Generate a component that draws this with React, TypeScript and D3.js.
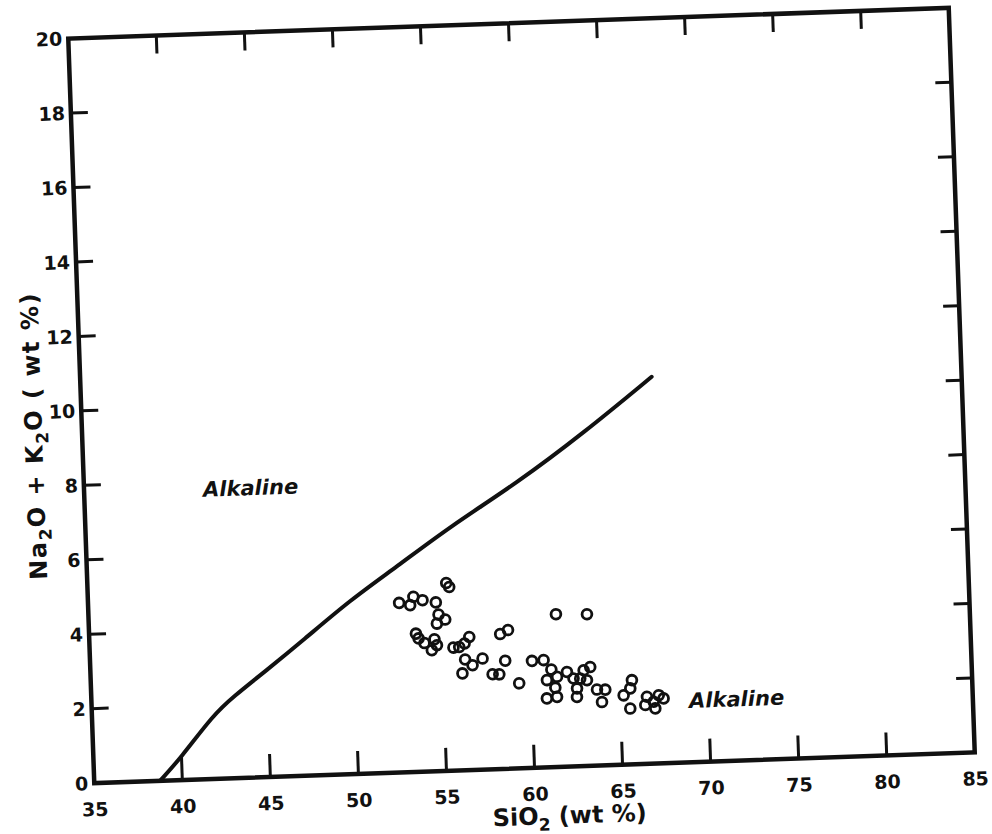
import * as d3 from "d3";

const WIDTH = 992;
const HEIGHT = 834;
const FRAME = { left: 81, right: 962, top: 23, bottom: 768 };
// the scanned figure sits a little rotated on the page
const TILT = -2;

const xTicks = [40, 45, 50, 55, 60, 65, 70, 75, 80];
const xLabels = [35, 40, 45, 50, 55, 60, 65, 70, 75, 80, 85];
const yTicks = [2, 4, 6, 8, 10, 12, 14, 16, 18];
const yLabels = [0, 2, 4, 6, 8, 10, 12, 14, 16, 18, 20];

// alkaline / subalkaline dividing curve
const boundarySiO2 = [38.73, 39.95, 41.89, 43.06, 45, 47.14, 49.87, 52.58, 55.68, 59.55, 63.43, 67.42];
const boundaryAlk = [0, 0.59, 1.72, 2.19, 2.87, 3.64, 4.67, 5.52, 6.55, 7.65, 8.93, 10.38];

// analysed samples
const sampleSiO2 = [
  55.36, 55.52, 52.65, 53.27, 53.47, 53.98, 54.73, 54.86, 55.23, 54.75,
  53.54, 53.68, 54.01, 54.58, 54.71, 54.41, 55.64, 55.97, 56.28, 56.56,
  58.32, 58.77, 56.28, 56.69, 57.27, 56.1, 58.55, 57.81, 58.19, 61.52,
  63.28, 59.3, 60.07, 60.73, 61.15, 60.88, 61.46, 61.34, 60.84, 61.42,
  62.03, 62.39, 62.77, 62.57, 62.55, 62.98, 63.36, 63.15, 63.7, 64.17,
  63.96, 65.2, 65.7, 65.59, 65.55, 66.41, 66.52, 66.89, 66.97, 67.19,
  67.46,
];
const sampleAlk = [
  5.04, 4.93, 4.55, 4.48, 4.7, 4.6, 4.53, 4.2, 4.06, 3.96,
  3.71, 3.58, 3.45, 3.54, 3.38, 3.25, 3.3, 3.31, 3.4, 3.57,
  3.62, 3.72, 2.97, 2.81, 2.98, 2.6, 2.9, 2.55, 2.54, 4.1,
  4.07, 2.28, 2.87, 2.88, 2.62, 2.34, 2.42, 2.13, 1.85, 1.88,
  2.54, 2.36, 2.35, 2.09, 1.86, 2.57, 2.65, 2.3, 2.04, 2.03,
  1.7, 1.86, 2.26, 2.04, 1.5, 1.58, 1.8, 1.66, 1.48, 1.83,
  1.74,
];

const fieldNames = ["Alkaline", "Alkaline"];
const fieldSiO2 = [41.75, 68.9];
const fieldAlk = [7.58, 1.46];

const INK = "#111";
const FONT = "'DejaVu Sans', sans-serif";

export default function App() {
  const x = d3.scaleLinear().domain([35, 85]).range([FRAME.left, FRAME.right]);
  const y = d3.scaleLinear().domain([0, 20]).range([FRAME.bottom, FRAME.top]);

  const cx = (FRAME.left + FRAME.right) / 2;
  const cy = (FRAME.top + FRAME.bottom) / 2;

  // basis smoothing irons out the reading noise, the hand-drawn line is smooth
  const boundary = d3
    .line<number>()
    .x((d) => x(d))
    .y((_, i) => y(boundaryAlk[i]))
    .curve(d3.curveBasis)(boundarySiO2);

  return (
    <svg
      width={WIDTH}
      height={HEIGHT}
      style={{ position: "absolute", left: 0, top: 0, display: "block", background: "#fff" }}
    >
      <g transform={`rotate(${TILT},${cx},${cy})`} fill={INK} fontFamily={FONT}>
        {/* frame */}
        <rect
          x={FRAME.left}
          y={FRAME.top}
          width={FRAME.right - FRAME.left}
          height={FRAME.bottom - FRAME.top}
          fill="none"
          stroke={INK}
          strokeWidth={4.5}
        />

        {/* ticks on all four sides, pointing inward */}
        <g stroke={INK} strokeWidth={3}>
          {xTicks.map((t) => (
            <line key={"b" + t} x1={x(t)} x2={x(t)} y1={FRAME.bottom} y2={FRAME.bottom - 23} />
          ))}
          {xTicks.map((t) => (
            <line key={"t" + t} x1={x(t)} x2={x(t)} y1={FRAME.top} y2={FRAME.top + 18} />
          ))}
          {yTicks.map((t) => (
            <line key={"l" + t} x1={FRAME.left} x2={FRAME.left + 17} y1={y(t)} y2={y(t)} />
          ))}
          {yTicks.map((t) => (
            <line key={"r" + t} x1={FRAME.right} x2={FRAME.right - 16} y1={y(t)} y2={y(t)} />
          ))}
        </g>

        {/* tick labels */}
        <g fontSize={19} fontWeight="bold">
          {xLabels.map((t) => (
            <text key={t} x={x(t)} y={FRAME.bottom + 33} textAnchor="middle">
              {t}
            </text>
          ))}
          {yLabels.map((t) => (
            <text key={t} x={FRAME.left - 6} y={y(t)} dy="0.36em" textAnchor="end">
              {t}
            </text>
          ))}
        </g>

        {/* axis titles */}
        <g fontSize={24} fontWeight="bold">
          <text x={x(61.9)} y={FRAME.bottom + 57} textAnchor="middle">
            SiO
            <tspan fontSize={17} dy={6}>2</tspan>
            <tspan dy={-6}> (wt %)</tspan>
          </text>
          <text
            transform={`translate(${FRAME.left - 40},${y(9.37)}) rotate(-90)`}
            textAnchor="middle"
            letterSpacing={1.5}
          >
            Na
            <tspan fontSize={17} dy={6}>2</tspan>
            <tspan dy={-6}>O + K</tspan>
            <tspan fontSize={17} dy={6}>2</tspan>
            <tspan dy={-6}>O ( wt %)</tspan>
          </text>
        </g>

        {/* dividing line */}
        <path d={boundary ?? ""} fill="none" stroke={INK} strokeWidth={4} strokeLinecap="round" />

        {/* samples */}
        <g fill="none" stroke={INK} strokeWidth={2.8}>
          {sampleSiO2.map((s, i) => (
            <circle key={i} cx={x(s)} cy={y(sampleAlk[i])} r={4.9} />
          ))}
        </g>

        {/* field names */}
        <g fontSize={21} fontWeight="bold" fontStyle="italic">
          {fieldNames.map((n, i) => (
            <text key={i} x={x(fieldSiO2[i])} y={y(fieldAlk[i])}>
              {n}
            </text>
          ))}
        </g>
      </g>
    </svg>
  );
}
